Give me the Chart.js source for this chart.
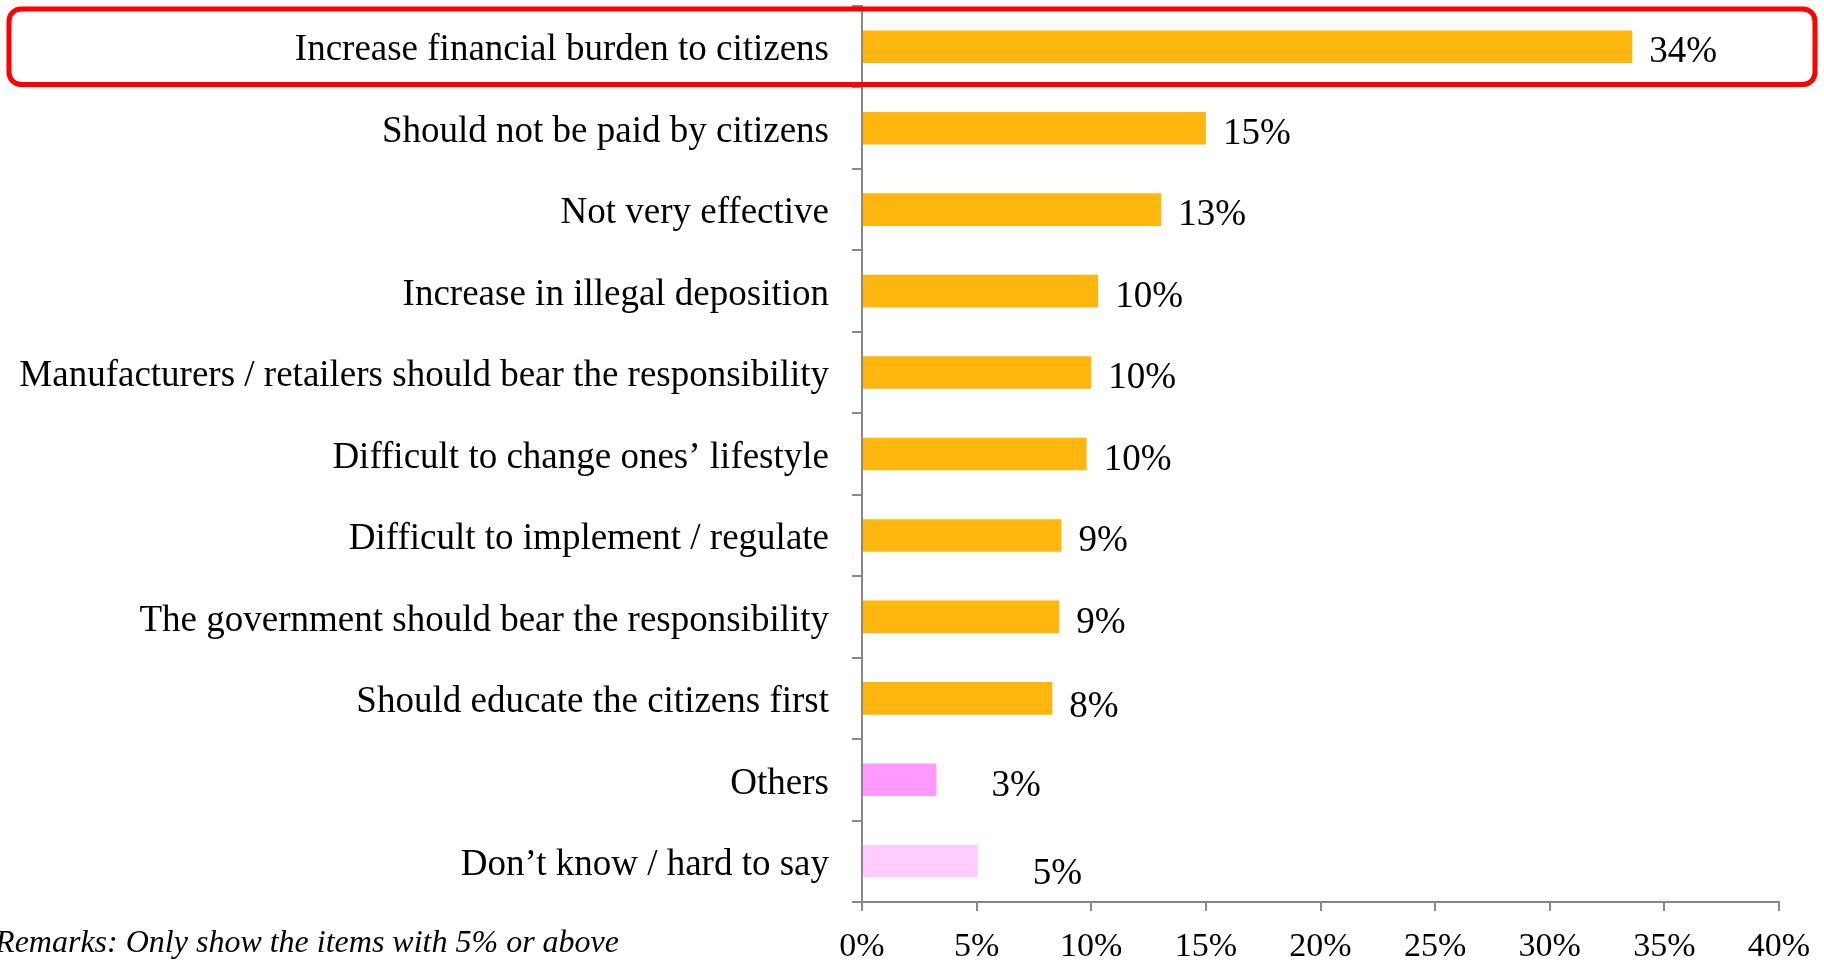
<!DOCTYPE html>
<html>
<head>
<meta charset="utf-8">
<script src="https://cdn.jsdelivr.net/npm/chart.js@4"></script>
<style>
  html, body { margin: 0; padding: 0; background: #fff; }
  #wrap { width: 1824px; height: 961px; position: relative; }
</style>
</head>
<body>
<div id="wrap"><canvas id="reasonsChart"></canvas></div>
<script>
const categories = [
  "Increase financial burden to citizens",
  "Should not be paid by citizens",
  "Not very effective",
  "Increase in illegal deposition",
  "Manufacturers / retailers should bear the responsibility",
  "Difficult to change ones\u2019 lifestyle",
  "Difficult to implement / regulate",
  "The government should bear the responsibility",
  "Should educate the citizens first",
  "Others",
  "Don\u2019t know / hard to say"
];
const shares = [33.6, 15.0, 13.05, 10.3, 10.0, 9.8, 8.7, 8.6, 8.3, 3.25, 5.05];
const xTicks = [0, 5, 10, 15, 20, 25, 30, 35, 40];
const remark = "Remarks: Only show the items with 5% or above";

const serif = "'Liberation Serif', 'Times New Roman', serif";
const barColors = categories.map((c, i) =>
  i === 9 ? "#FF99FF" : i === 10 ? "#FFCCFF" : "#FFB60F"
);

// value labels to the right of each bar (the two pink ones sit further out)
const valueLabels = {
  id: "valueLabels",
  afterDatasetsDraw(chart) {
    const { ctx } = chart;
    const meta = chart.getDatasetMeta(0);
    ctx.save();
    ctx.font = "37px " + serif;
    ctx.fillStyle = "#000";
    ctx.textAlign = "left";
    ctx.textBaseline = "middle";
    meta.data.forEach((bar, i) => {
      const gap = i >= 9 ? 55 : 17;
      const dy = i === 10 ? 13 : i === 8 ? 9 : 6;
      ctx.fillText(Math.round(shares[i]) + "%", bar.x + gap, bar.y + dy);
    });
    ctx.restore();
  }
};

// red rounded frame around the first row + remark line under the labels
const extras = {
  id: "extras",
  afterDraw(chart) {
    const { ctx } = chart;
    const y = chart.scales.y;
    const band = y.getPixelForValue(1) - y.getPixelForValue(0);
    const top = y.getPixelForValue(0) - band / 2 + 3;
    ctx.save();
    ctx.strokeStyle = "#FF0000";
    ctx.lineWidth = 5;
    ctx.beginPath();
    ctx.roundRect(9, top, chart.width - 18, band - 6, 12);
    ctx.stroke();

    ctx.font = "italic 32px " + serif;
    ctx.fillStyle = "#000";
    ctx.textAlign = "right";
    ctx.textBaseline = "middle";
    ctx.fillText(remark, 619, 944);
    ctx.restore();
  }
};

new Chart(document.getElementById("reasonsChart"), {
  type: "bar",
  data: {
    labels: categories,
    datasets: [{
      data: shares,
      backgroundColor: barColors,
      borderWidth: 0,
      barPercentage: 0.8,
      categoryPercentage: 0.5
    }]
  },
  options: {
    indexAxis: "y",
    responsive: true,
    maintainAspectRatio: false,
    animation: false,
    layout: { padding: { top: 6, right: 45, left: 0, bottom: 0 } },
    plugins: {
      legend: { display: false },
      tooltip: { enabled: false }
    },
    scales: {
      x: {
        min: 0,
        max: 40,
        afterBuildTicks: (scale) => {
          scale.ticks = xTicks.map((v) => ({ value: v }));
        },
        afterFit: (scale) => {
          scale.height = 59;
          scale.paddingLeft = 0;
          scale.paddingRight = 0;
        },
        border: { color: "#888", width: 2 },
        grid: {
          drawOnChartArea: false,
          drawTicks: true,
          tickLength: 9,
          color: "#888",
          lineWidth: 2
        },
        ticks: {
          padding: 16,
          color: "#000",
          font: { family: serif, size: 34 },
          callback: (v) => v + "%"
        }
      },
      y: {
        afterFit: (scale) => {
          scale.width = 862;
          scale.paddingTop = 0;
          scale.paddingBottom = 0;
        },
        border: { color: "#888", width: 2 },
        grid: {
          offset: true,
          drawOnChartArea: false,
          drawTicks: true,
          tickLength: 10,
          color: "#888",
          lineWidth: 2
        },
        ticks: {
          padding: 23,
          labelOffset: 4,
          color: "#000",
          font: { family: serif, size: 37 }
        }
      }
    }
  },
  plugins: [valueLabels, extras]
});
</script>
</body>
</html>
